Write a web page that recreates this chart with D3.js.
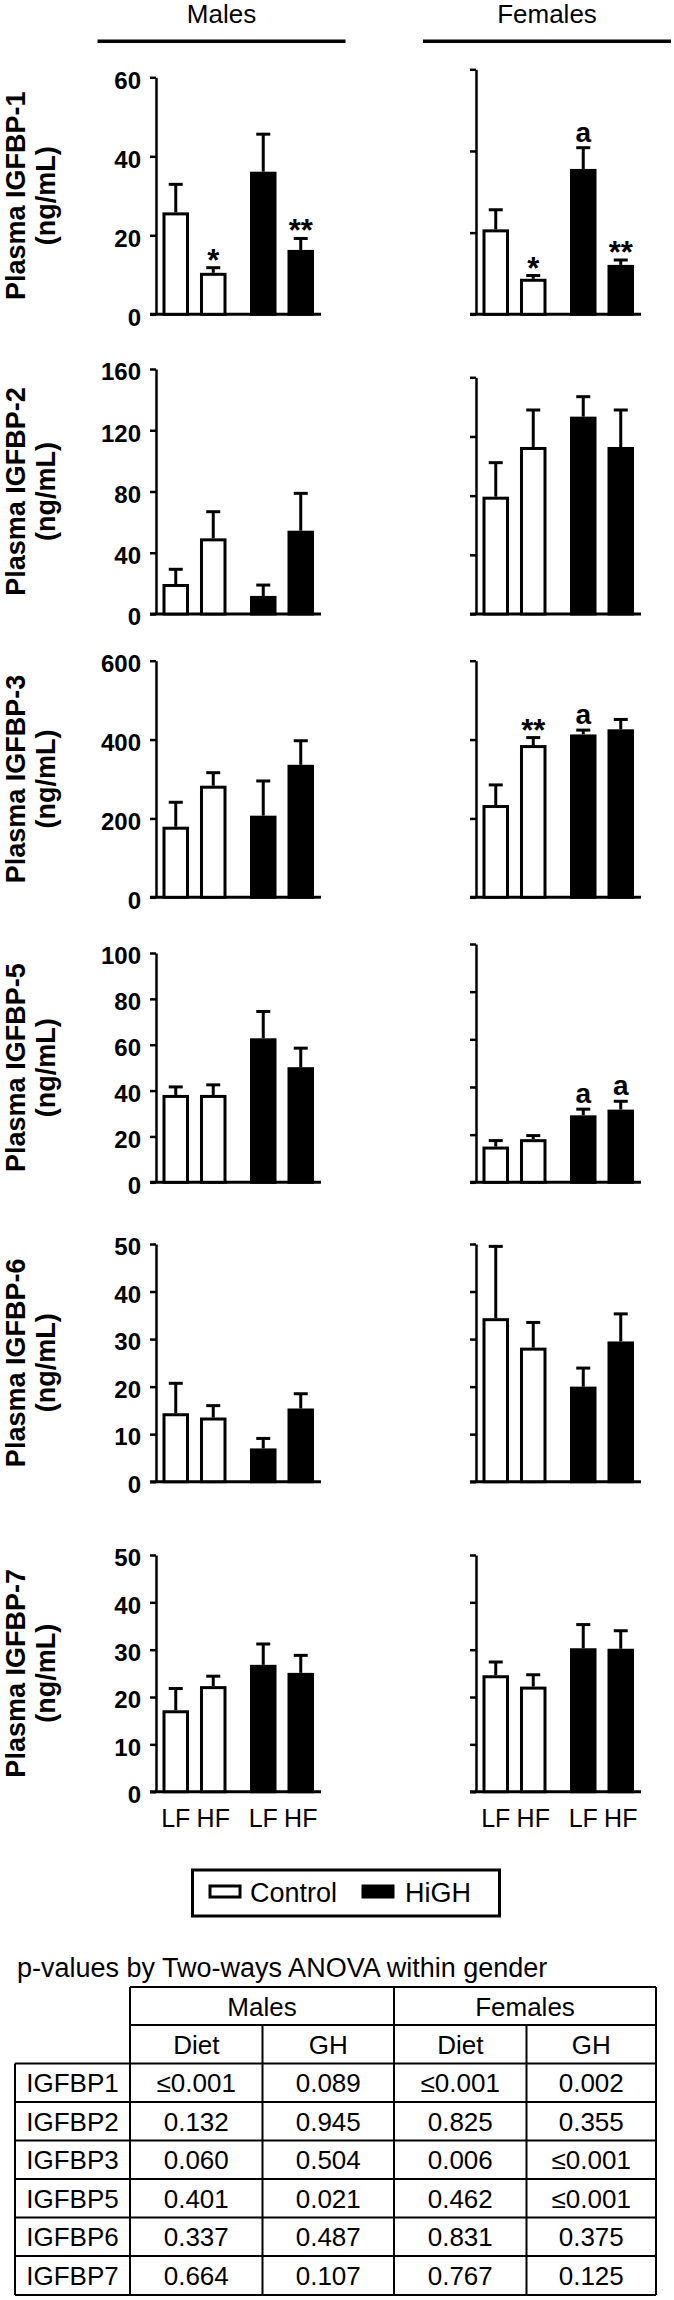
<!DOCTYPE html>
<html><head><meta charset="utf-8">
<script src="https://cdn.jsdelivr.net/npm/d3@7"></script>
<style>
body{margin:0;background:#fff}
svg{display:block}
text{font-family:"Liberation Sans",Arial,Helvetica,sans-serif;fill:#000}
</style>
</head><body>
<script>
// ---------- data ----------
const sexes = ["Males", "Females"];
const treatments = ["Control", "HiGH"];
const diets = ["LF", "HF"];
const proteins = ["IGFBP-1", "IGFBP-2", "IGFBP-3", "IGFBP-5", "IGFBP-6", "IGFBP-7"];
const yMax = [60, 160, 600, 100, 50, 50];
const yStep = [20, 40, 200, 20, 10, 10];
// bar order in each panel: Control-LF, Control-HF, HiGH-LF, HiGH-HF
const maleMean = [[25.8, 10.5, 36.1, 16.3], [19.6, 49.4, 11.8, 54.4], [179, 283, 207, 336],
                  [38.1, 38.1, 62.8, 50.2], [14.4, 13.5, 7.0, 15.4], [17.2, 22.3, 26.8, 25.1]];
const maleSem = [[7.1, 1.3, 9.5, 2.9], [9.6, 17.4, 7.1, 24.4], [62, 33, 88, 61],
                 [3.5, 4.4, 11.7, 8.3], [6.3, 2.5, 2.1, 3.1], [4.6, 2.1, 4.4, 3.7]];
const femaleMean = [[20.8, 8.7, 35.6, 12.1], [79.3, 112.9, 133.4, 112.9], [234, 386, 413, 426],
                    [15.0, 18.1, 28.1, 30.5], [34.4, 28.2, 20.0, 29.5], [24.6, 22.2, 30.3, 30.2]];
const femaleSem = [[4.8, 0.8, 5.2, 1.2], [23, 25, 13.5, 25], [51, 19, 11, 25],
                   [2.5, 1.5, 2.6, 3.5], [15.1, 5.3, 3.9, 5.8], [2.8, 2.5, 5.0, 3.8]];
const annotations = [
  {panel: 0, sex: "Males", bar: 1, text: "*"},
  {panel: 0, sex: "Males", bar: 3, text: "**"},
  {panel: 0, sex: "Females", bar: 1, text: "*"},
  {panel: 0, sex: "Females", bar: 2, text: "a"},
  {panel: 0, sex: "Females", bar: 3, text: "**"},
  {panel: 2, sex: "Females", bar: 1, text: "**"},
  {panel: 2, sex: "Females", bar: 2, text: "a"},
  {panel: 3, sex: "Females", bar: 2, text: "a"},
  {panel: 3, sex: "Females", bar: 3, text: "a"}
];
const unitLabel = "(ng/mL)";
const tableTitle = "p-values by Two-ways ANOVA within gender";
const tableFactors = ["Diet", "GH"];
const tableRows = ["IGFBP1", "IGFBP2", "IGFBP3", "IGFBP5", "IGFBP6", "IGFBP7"];
const pMaleDiet = ["≤0.001", "0.132", "0.060", "0.401", "0.337", "0.664"];
const pMaleGH = ["0.089", "0.945", "0.504", "0.021", "0.487", "0.107"];
const pFemaleDiet = ["≤0.001", "0.825", "0.006", "0.462", "0.831", "0.767"];
const pFemaleGH = ["0.002", "0.355", "≤0.001", "≤0.001", "0.375", "0.125"];

// ---------- layout ----------
const W = 674, H = 2300;
const panelTop = {Males: [77.3, 369, 660.7, 953, 1244, 1555], Females: [69.3, 377.3, 660.7, 944, 1244, 1555]};
const panelZero = [314.3, 614, 897.3, 1182.3, 1481.7, 1791.7];
const axisX = {Males: 156, Females: 476};
const SW = 3;

const svg = d3.select("body").append("svg").attr("width", W).attr("height", H);
svg.append("rect").attr("width", W).attr("height", H).attr("fill", "#fff");

// column headers
const headerX = {Males: 221.5, Females: 547};
sexes.forEach(s => {
  svg.append("text").attr("x", headerX[s]).attr("y", 23).attr("text-anchor", "middle")
    .attr("font-size", 26).text(s);
  svg.append("line").attr("x1", headerX[s] - 124).attr("x2", headerX[s] + 124)
    .attr("y1", 41.3).attr("y2", 41.3).attr("stroke", "#000").attr("stroke-width", 3.5);
});

// x band scales (treatment groups, diets inside)
const outer = d3.scaleBand().domain(treatments).range([6.5, 158]).paddingInner(0.2686);
const inner = d3.scaleBand().domain(diets).range([0, outer.bandwidth()]).paddingInner(0.293);
const bars = [];
treatments.forEach(t => diets.forEach(d => bars.push({t, d})));

proteins.forEach((prot, p) => {
  const zero = panelZero[p];
  // y label
  const cy = (panelTop.Males[p] + zero) / 2;
  const lab = svg.append("g").attr("font-weight", "bold").attr("font-size", 27).attr("text-anchor", "middle");
  lab.append("text").attr("transform", `translate(25,${cy}) rotate(-90)`).text("Plasma " + prot);
  lab.append("text").attr("transform", `translate(55,${cy}) rotate(-90)`).text(unitLabel);

  sexes.forEach(s => {
    const ax = axisX[s];
    const y = d3.scaleLinear().domain([0, yMax[p]]).range([zero, panelTop[s][p]]);
    const means = s === "Males" ? maleMean[p] : femaleMean[p];
    const sems = s === "Males" ? maleSem[p] : femaleSem[p];
    const g = svg.append("g").attr("transform", `translate(${ax},0)`);

    const axis = d3.axisLeft(y).tickValues(d3.range(0, yMax[p] + 1e-9, yStep[p]))
      .tickSize(6).tickSizeOuter(0).tickPadding(9)
      .tickFormat(s === "Males" ? d3.format("d") : () => "");
    const ag = g.append("g").call(axis);
    ag.select(".domain").attr("stroke-width", 2.5);
    ag.selectAll(".tick line").attr("stroke-width", 2.5);
    ag.selectAll(".tick text").attr("font-size", 24).attr("font-weight", "bold")
      .attr("font-family", '"Liberation Sans",Arial,sans-serif').attr("fill", "#000")
      .attr("dy", "0.45em");

    // baseline
    g.append("line").attr("x1", -6).attr("x2", 165).attr("y1", zero).attr("y2", zero)
      .attr("stroke", "#000").attr("stroke-width", 3);

    bars.forEach((b, i) => {
      const x0 = outer(b.t) + inner(b.d);
      const bw = inner.bandwidth();
      const cx = x0 + bw / 2;
      const top = y(means[i] + sems[i]);
      g.append("line").attr("x1", cx).attr("x2", cx).attr("y1", y(means[i])).attr("y2", top)
        .attr("stroke", "#000").attr("stroke-width", SW);
      g.append("line").attr("x1", cx - 7).attr("x2", cx + 7).attr("y1", top).attr("y2", top)
        .attr("stroke", "#000").attr("stroke-width", SW);
      g.append("rect").attr("x", x0 + SW / 2).attr("y", y(means[i]) + SW / 2)
        .attr("width", bw - SW).attr("height", Math.max(0, zero - y(means[i]) - SW / 2))
        .attr("fill", b.t === "Control" ? "#fff" : "#000")
        .attr("stroke", "#000").attr("stroke-width", SW);
      if (p === proteins.length - 1) {
        g.append("text").attr("x", cx).attr("y", 1827).attr("text-anchor", "middle")
          .attr("font-size", 25).text(b.d);
      }
    });

    annotations.filter(a => a.panel === p && a.sex === s).forEach(a => {
      const b = bars[a.bar];
      const cx = outer(b.t) + inner(b.d) + inner.bandwidth() / 2;
      const top = y(means[a.bar] + sems[a.bar]);
      g.append("text").attr("x", cx).attr("y", a.text === "a" ? top - 6 : top + 3)
        .attr("text-anchor", "middle").attr("font-size", a.text === "a" ? 28 : 31)
        .attr("font-weight", "bold").text(a.text);
    });
  });
});

// legend
const lg = svg.append("g");
lg.append("rect").attr("x", 192.5).attr("y", 1870).attr("width", 307).attr("height", 46)
  .attr("fill", "#fff").attr("stroke", "#000").attr("stroke-width", 3);
const legX = [{sw: 210, tx: 250}, {sw: 363, tx: 405}];
treatments.forEach((t, i) => {
  lg.append("rect").attr("x", legX[i].sw).attr("y", 1886).attr("width", 30).attr("height", 11)
    .attr("fill", t === "Control" ? "#fff" : "#000").attr("stroke", "#000").attr("stroke-width", SW);
  lg.append("text").attr("x", legX[i].tx).attr("y", 1902).attr("font-size", 27).text(t);
});

// table
const tg = svg.append("g");
tg.append("text").attr("x", 17).attr("y", 1977).attr("font-size", 27).text(tableTitle);
const colX = [15, 130, 262.5, 394, 526.5, 656];
const rowY = [1987, 2025, 2063.5, 2102, 2140.5, 2179, 2217.5, 2256, 2295];
const line = (x1, y1, x2, y2) => tg.append("line").attr("x1", x1).attr("y1", y1).attr("x2", x2).attr("y2", y2)
  .attr("stroke", "#000").attr("stroke-width", 2);
// horizontal
line(colX[1], rowY[0], colX[5], rowY[0]);
line(colX[1], rowY[1], colX[5], rowY[1]);
for (let r = 2; r < rowY.length; r++) line(colX[0], rowY[r], colX[5], rowY[r]);
// vertical
line(colX[0], rowY[2], colX[0], rowY[8]);
line(colX[1], rowY[0], colX[1], rowY[8]);
line(colX[2], rowY[1], colX[2], rowY[8]);
line(colX[3], rowY[0], colX[3], rowY[8]);
line(colX[4], rowY[1], colX[4], rowY[8]);
line(colX[5], rowY[0], colX[5], rowY[8]);
const cell = (txt, c0, c1, r) => tg.append("text").attr("x", (colX[c0] + colX[c1]) / 2)
  .attr("y", (rowY[r] + rowY[r + 1]) / 2 + 9.5).attr("text-anchor", "middle").attr("font-size", 26).text(txt);
cell(sexes[0], 1, 3, 0);
cell(sexes[1], 3, 5, 0);
[1, 2, 3, 4].forEach((c, i) => cell(tableFactors[i % 2], c, c + 1, 1));
tableRows.forEach((r, i) => {
  cell(r, 0, 1, i + 2);
  cell(pMaleDiet[i], 1, 2, i + 2);
  cell(pMaleGH[i], 2, 3, i + 2);
  cell(pFemaleDiet[i], 3, 4, i + 2);
  cell(pFemaleGH[i], 4, 5, i + 2);
});
</script>
</body></html>
